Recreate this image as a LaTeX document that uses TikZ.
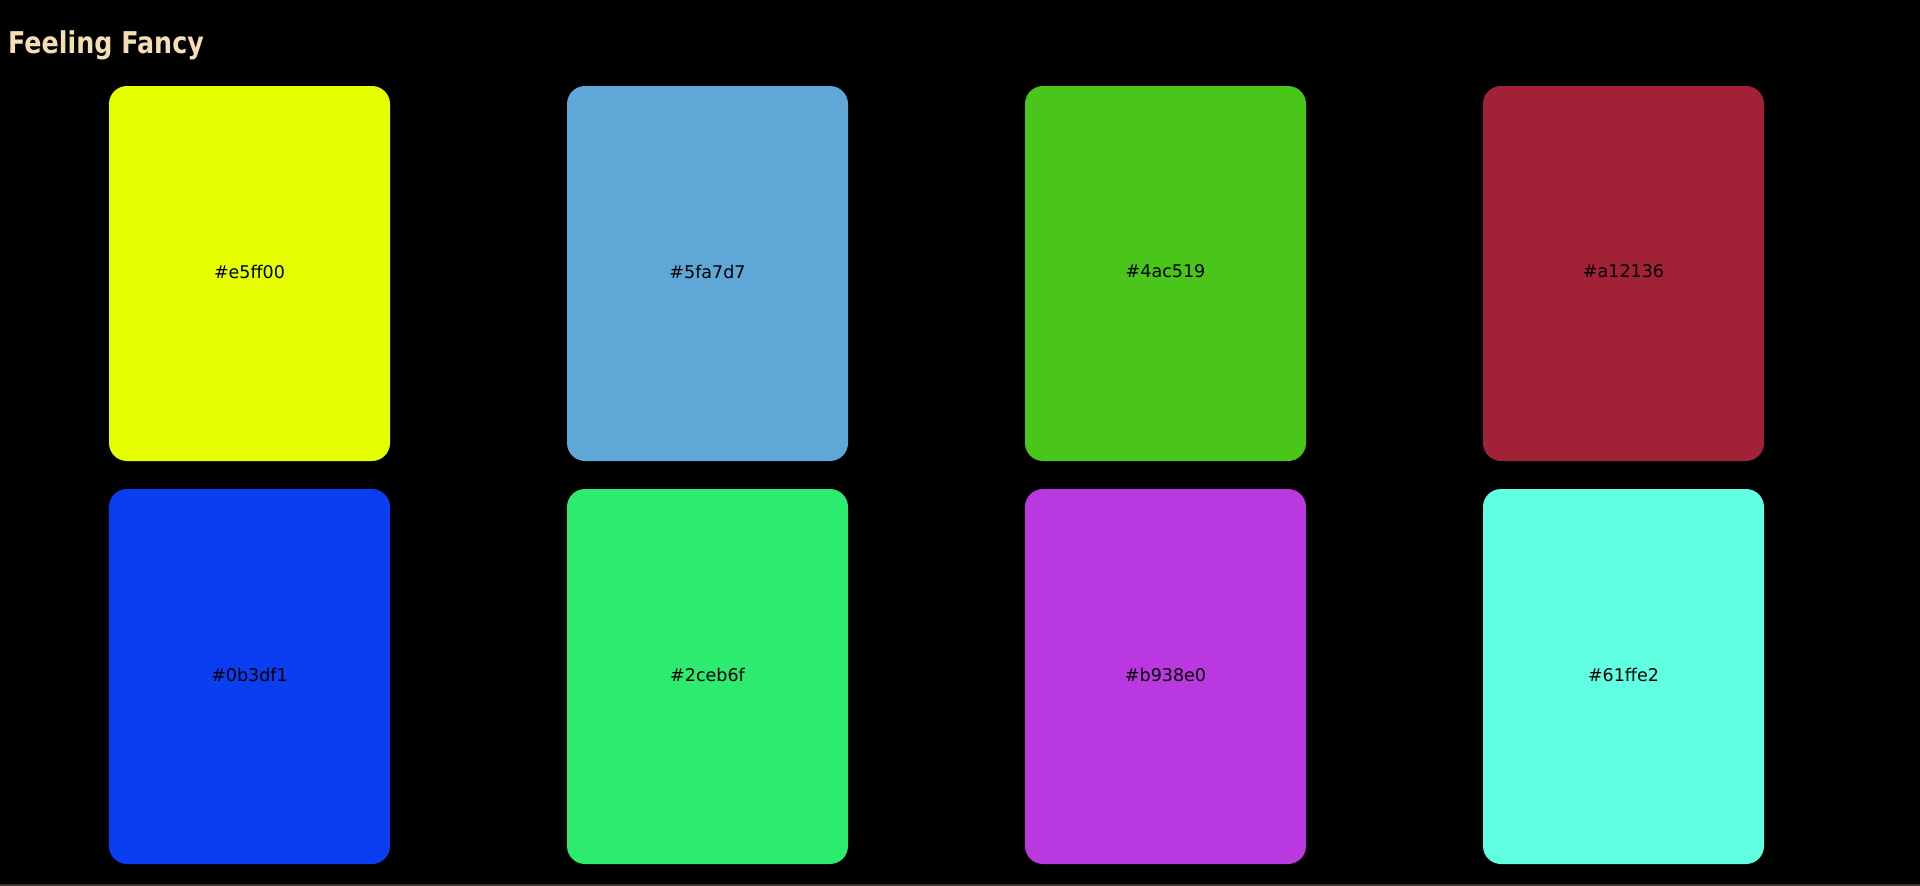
\documentclass[tikz,border=0pt]{standalone}
\usepackage{fontspec}
\setmainfont{DejaVu Sans}
\definecolor{bg}{HTML}{000000}
\definecolor{titlec}{HTML}{F5DEB3}
\definecolor{linec}{HTML}{3C342C}
\definecolor{cA}{HTML}{E5FF00}
\definecolor{cB}{HTML}{5FA7D7}
\definecolor{cC}{HTML}{4AC519}
\definecolor{cD}{HTML}{A12136}
\definecolor{cE}{HTML}{0B3DF1}
\definecolor{cF}{HTML}{2CEB6F}
\definecolor{cG}{HTML}{B938E0}
\definecolor{cH}{HTML}{61FFE2}
\newcommand{\swlabel}[1]{\raisebox{4pt}{#1}}
\tikzset{
  swatch/.style={rectangle, rounded corners=18pt, minimum width=281pt, minimum height=375pt, inner sep=0pt, draw=none, text=black, font=\fontsize{17.5pt}{20pt}\selectfont},
  titletext/.style={anchor=base west, inner sep=0pt, text=titlec, font=\bfseries\fontsize{30pt}{36pt}\selectfont}
}
\begin{document}
\begin{tikzpicture}[x=1pt,y=-1pt]
\fill[bg] (0,0) rectangle (1920,886);
\useasboundingbox (0,0) rectangle (1920,886);
\fill[linec] (0,883.5) rectangle (1920,886);
\node[titletext] (title) at (8,53) {\scalebox{0.845}[1]{Feeling Fancy}};
% row 1
\node[swatch, fill=cA] (s1) at (249.5,273.5) {\swlabel{\#e5ff00}};
\node[swatch, fill=cB] (s2) at (707.5,273.5) {\swlabel{\#5fa7d7}};
\node[swatch, fill=cC] (s3) at (1165.5,273.5) {\swlabel{\#4ac519}};
\node[swatch, fill=cD] (s4) at (1623.5,273.5) {\swlabel{\#a12136}};
% row 2
\node[swatch, fill=cE] (s5) at (249.5,676.5) {\swlabel{\#0b3df1}};
\node[swatch, fill=cF] (s6) at (707.5,676.5) {\swlabel{\#2ceb6f}};
\node[swatch, fill=cG] (s7) at (1165.5,676.5) {\swlabel{\#b938e0}};
\node[swatch, fill=cH] (s8) at (1623.5,676.5) {\swlabel{\#61ffe2}};
\end{tikzpicture}
\end{document}
